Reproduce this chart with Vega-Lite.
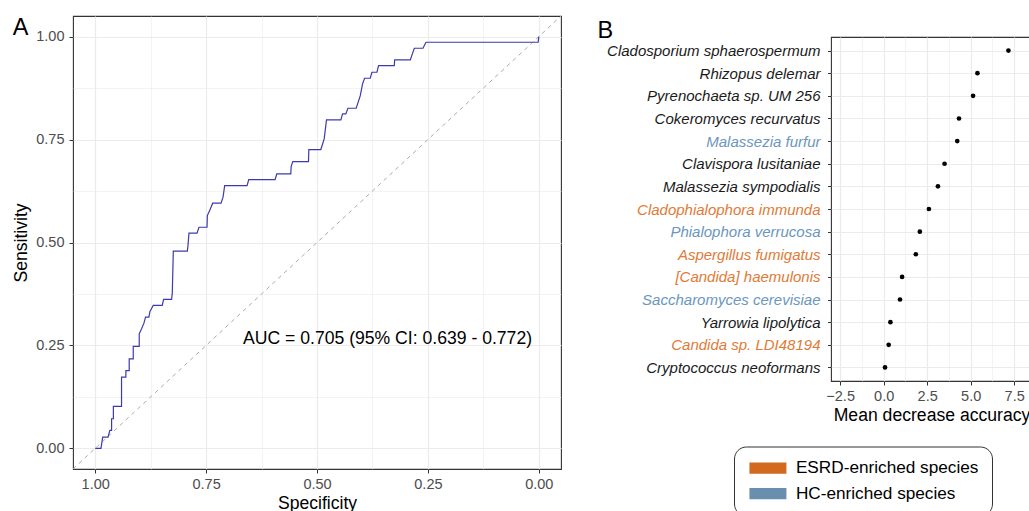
{
  "$schema": "https://vega.github.io/schema/vega-lite/v6.json",
  "padding": {"left": 12, "top": 14, "right": 0, "bottom": 0},
  "background": "white",
  "config": {
    "font": "Liberation Sans",
    "view": {"stroke": "#333333", "strokeWidth": 1.1},
    "axis": {
      "gridColor": "#EBEBEB",
      "domain": false,
      "tickColor": "#333333",
      "tickSize": 4,
      "labelColor": "#4D4D4D",
      "labelFontSize": 14.5,
      "labelLimit": 400,
      "titleFontSize": 17.6,
      "titleFontWeight": "normal",
      "titleColor": "black"
    },
    "title": {"fontSize": 23.5, "fontWeight": "normal", "color": "black"}
  },
  "datasets": {
    "roc": [
      {"i": 1, "spec": 1.0, "sens": 0.0},
      {"i": 2, "spec": 0.987, "sens": 0.0},
      {"i": 3, "spec": 0.983, "sens": 0.0275},
      {"i": 4, "spec": 0.971, "sens": 0.0275},
      {"i": 5, "spec": 0.967, "sens": 0.0437},
      {"i": 6, "spec": 0.963, "sens": 0.0437},
      {"i": 7, "spec": 0.963, "sens": 0.072},
      {"i": 8, "spec": 0.959, "sens": 0.072},
      {"i": 9, "spec": 0.959, "sens": 0.102},
      {"i": 10, "spec": 0.9406, "sens": 0.102},
      {"i": 11, "spec": 0.9406, "sens": 0.173},
      {"i": 12, "spec": 0.9308, "sens": 0.173},
      {"i": 13, "spec": 0.9308, "sens": 0.189},
      {"i": 14, "spec": 0.9233, "sens": 0.189},
      {"i": 15, "spec": 0.9233, "sens": 0.2176},
      {"i": 16, "spec": 0.9142, "sens": 0.2176},
      {"i": 17, "spec": 0.9142, "sens": 0.2476},
      {"i": 18, "spec": 0.9007, "sens": 0.2476},
      {"i": 19, "spec": 0.9007, "sens": 0.2783},
      {"i": 20, "spec": 0.8954, "sens": 0.2905},
      {"i": 21, "spec": 0.8901, "sens": 0.3042},
      {"i": 22, "spec": 0.8864, "sens": 0.3188},
      {"i": 23, "spec": 0.8789, "sens": 0.3188},
      {"i": 24, "spec": 0.8766, "sens": 0.3325},
      {"i": 25, "spec": 0.8691, "sens": 0.3471},
      {"i": 26, "spec": 0.8488, "sens": 0.3471},
      {"i": 27, "spec": 0.8458, "sens": 0.3617},
      {"i": 28, "spec": 0.8277, "sens": 0.3617},
      {"i": 29, "spec": 0.8262, "sens": 0.377},
      {"i": 30, "spec": 0.8239, "sens": 0.479},
      {"i": 31, "spec": 0.7923, "sens": 0.479},
      {"i": 32, "spec": 0.7908, "sens": 0.4927},
      {"i": 33, "spec": 0.7886, "sens": 0.5227},
      {"i": 34, "spec": 0.7705, "sens": 0.5227},
      {"i": 35, "spec": 0.766, "sens": 0.537},
      {"i": 36, "spec": 0.7479, "sens": 0.537},
      {"i": 37, "spec": 0.7472, "sens": 0.5655},
      {"i": 38, "spec": 0.7412, "sens": 0.5793},
      {"i": 39, "spec": 0.7351, "sens": 0.5955},
      {"i": 40, "spec": 0.7163, "sens": 0.5955},
      {"i": 41, "spec": 0.7118, "sens": 0.61},
      {"i": 42, "spec": 0.7081, "sens": 0.6383},
      {"i": 43, "spec": 0.6576, "sens": 0.6383},
      {"i": 44, "spec": 0.6539, "sens": 0.6529},
      {"i": 45, "spec": 0.5944, "sens": 0.6529},
      {"i": 46, "spec": 0.5907, "sens": 0.6667},
      {"i": 47, "spec": 0.5591, "sens": 0.6667},
      {"i": 48, "spec": 0.5583, "sens": 0.6845},
      {"i": 49, "spec": 0.5546, "sens": 0.6966},
      {"i": 50, "spec": 0.5192, "sens": 0.6966},
      {"i": 51, "spec": 0.5184, "sens": 0.7257},
      {"i": 52, "spec": 0.4913, "sens": 0.7257},
      {"i": 53, "spec": 0.4838, "sens": 0.7516},
      {"i": 54, "spec": 0.4786, "sens": 0.7977},
      {"i": 55, "spec": 0.4462, "sens": 0.7977},
      {"i": 56, "spec": 0.4424, "sens": 0.8123},
      {"i": 57, "spec": 0.4349, "sens": 0.8123},
      {"i": 58, "spec": 0.4304, "sens": 0.826},
      {"i": 59, "spec": 0.4116, "sens": 0.826},
      {"i": 60, "spec": 0.4026, "sens": 0.856},
      {"i": 61, "spec": 0.3973, "sens": 0.8851},
      {"i": 62, "spec": 0.3928, "sens": 0.8989},
      {"i": 63, "spec": 0.38, "sens": 0.8989},
      {"i": 64, "spec": 0.3762, "sens": 0.9134},
      {"i": 65, "spec": 0.3649, "sens": 0.9134},
      {"i": 66, "spec": 0.3612, "sens": 0.9296},
      {"i": 67, "spec": 0.3258, "sens": 0.9296},
      {"i": 68, "spec": 0.325, "sens": 0.9434},
      {"i": 69, "spec": 0.2897, "sens": 0.9434},
      {"i": 70, "spec": 0.2807, "sens": 0.9717},
      {"i": 71, "spec": 0.2611, "sens": 0.9717},
      {"i": 72, "spec": 0.2543, "sens": 0.9862},
      {"i": 73, "spec": 0.0015, "sens": 0.9862},
      {"i": 74, "spec": 0.0, "sens": 1.0}
    ],
    "imp": [
      {"species": "Cladosporium sphaerospermum", "mda": 7.17, "group": "none"},
      {"species": "Rhizopus delemar", "mda": 5.39, "group": "none"},
      {"species": "Pyrenochaeta sp. UM 256", "mda": 5.14, "group": "none"},
      {"species": "Cokeromyces recurvatus", "mda": 4.33, "group": "none"},
      {"species": "Malassezia furfur", "mda": 4.23, "group": "HC-enriched species"},
      {"species": "Clavispora lusitaniae", "mda": 3.5, "group": "none"},
      {"species": "Malassezia sympodialis", "mda": 3.12, "group": "none"},
      {"species": "Cladophialophora immunda", "mda": 2.6, "group": "ESRD-enriched species"},
      {"species": "Phialophora verrucosa", "mda": 2.08, "group": "HC-enriched species"},
      {"species": "Aspergillus fumigatus", "mda": 1.85, "group": "ESRD-enriched species"},
      {"species": "[Candida] haemulonis", "mda": 1.06, "group": "ESRD-enriched species"},
      {"species": "Saccharomyces cerevisiae", "mda": 0.94, "group": "HC-enriched species"},
      {"species": "Yarrowia lipolytica", "mda": 0.39, "group": "none"},
      {"species": "Candida sp. LDI48194", "mda": 0.29, "group": "ESRD-enriched species"},
      {"species": "Cryptococcus neoformans", "mda": 0.08, "group": "none"}
    ]
  },
  "resolve": {"scale": {"color": "independent"}, "legend": {"color": "independent"}},
  "spacing": 35,
  "hconcat": [
    {
      "width": 488,
      "height": 453,
      "title": {"text": "A", "anchor": "start", "frame": "bounds", "offset": -23},
      "encoding": {
        "x": {
          "field": "spec", "type": "quantitative",
          "scale": {"domain": [-0.05, 1.05], "reverse": true, "nice": false, "zero": false},
          "axis": {
            "title": "Specificity",
            "values": [0, 0.125, 0.25, 0.375, 0.5, 0.625, 0.75, 0.875, 1],
            "labelExpr": "(datum.value*4) % 1 == 0 ? format(datum.value, '.2f') : ''",
            "tickOpacity": {"condition": {"test": "(datum.value*4) % 1 != 0", "value": 0}, "value": 1},
            "gridWidth": {"condition": {"test": "(datum.value*4) % 1 != 0", "value": 0.6}, "value": 1.2},
            "labelPadding": 4,
            "titlePadding": 4
          }
        },
        "y": {
          "field": "sens", "type": "quantitative",
          "scale": {"domain": [-0.05, 1.05], "nice": false, "zero": false},
          "axis": {
            "title": "Sensitivity",
            "values": [0, 0.125, 0.25, 0.375, 0.5, 0.625, 0.75, 0.875, 1],
            "labelExpr": "(datum.value*4) % 1 == 0 ? format(datum.value, '.2f') : ''",
            "tickOpacity": {"condition": {"test": "(datum.value*4) % 1 != 0", "value": 0}, "value": 1},
            "gridWidth": {"condition": {"test": "(datum.value*4) % 1 != 0", "value": 0.6}, "value": 1.2},
            "labelPadding": 5,
            "titlePadding": 5
          }
        }
      },
      "layer": [
        {
          "data": {"values": [{"spec": 1.05, "sens": -0.05}, {"spec": -0.05, "sens": 1.05}]},
          "mark": {"type": "line", "color": "#AAAAAA", "strokeDash": [4, 4], "strokeWidth": 1, "clip": true}
        },
        {
          "data": {"name": "roc"},
          "mark": {"type": "line", "color": "#3B3BAD", "strokeWidth": 1.2},
          "encoding": {"order": {"field": "i", "type": "quantitative"}}
        },
        {
          "data": {"values": [{"spec": 0.341, "sens": 0.265, "label": "AUC = 0.705 (95% CI: 0.639 - 0.772)"}]},
          "mark": {"type": "text", "fontSize": 17.6, "color": "black", "align": "center", "baseline": "middle"},
          "encoding": {"text": {"field": "label"}}
        }
      ]
    },
    {
      "resolve": {"scale": {"color": "independent"}, "legend": {"color": "independent"}},
      "spacing": 1,
      "vconcat": [
        {
          "width": 1,
          "height": 0.5,
          "view": {"stroke": null},
          "data": {"values": [{"t": ""}]},
          "mark": {"type": "text", "fontSize": 0},
          "encoding": {"text": {"field": "t"}}
        },
        {
          "width": 201,
          "height": 344,
          "title": {"text": "B", "anchor": "start", "frame": "bounds", "offset": -5.3, "dx": -9},
          "data": {"name": "imp"},
          "encoding": {
            "y": {
              "field": "species", "type": "nominal", "sort": null,
              "scale": {"type": "point", "padding": 0.6},
              "axis": {
                "title": null,
                "grid": true,
                "gridWidth": 1.2,
                "labelFontStyle": "italic",
                "labelFontSize": 15,
                "labelPadding": 7.5,
                "tickSize": 3.5,
                "labelColor": {
                  "condition": [
                    {"test": "indexof(['Cladophialophora immunda','Aspergillus fumigatus','[Candida] haemulonis','Candida sp. LDI48194'], datum.value) >= 0", "value": "#E07A35"},
                    {"test": "indexof(['Malassezia furfur','Phialophora verrucosa','Saccharomyces cerevisiae'], datum.value) >= 0", "value": "#6B96BD"}
                  ],
                  "value": "#1A1A1A"
                }
              }
            },
            "x": {
              "field": "mda", "type": "quantitative",
              "scale": {"domain": [-3.025, 8.525], "nice": false, "zero": false},
              "axis": {
                "title": "Mean decrease accuracy",
                "values": [-2.5, -1.25, 0, 1.25, 2.5, 3.75, 5, 6.25, 7.5],
                "labelExpr": "(datum.value/2.5) % 1 == 0 ? replace(format(datum.value, '.1f'), '-', '\u2212') : ''",
                "tickOpacity": {"condition": {"test": "(datum.value/2.5) % 1 != 0", "value": 0}, "value": 1},
                "gridWidth": {"condition": {"test": "(datum.value/2.5) % 1 != 0", "value": 0.6}, "value": 1.2},
                "labelPadding": 4,
                "titlePadding": 4
              }
            }
          },
          "layer": [
            {
              "mark": {"type": "circle", "size": 22, "color": "black", "opacity": 1}
            },
            {
              "transform": [{"filter": {"field": "group", "oneOf": ["ESRD-enriched species", "HC-enriched species"]}}],
              "mark": {"type": "square", "opacity": 0},
              "encoding": {
                "color": {
                  "field": "group", "type": "nominal",
                  "scale": {"domain": ["ESRD-enriched species", "HC-enriched species"], "range": ["#D2691E", "#6A8EAE"]},
                  "legend": {
                    "title": null,
                    "orient": "none",
                    "legendX": -97,
                    "legendY": 409.5,
                    "padding": 13,
                    "strokeColor": "#333333",
                    "cornerRadius": 12,
                    "fillColor": "white",
                    "labelFontSize": 17.2,
                    "labelColor": "black",
                    "labelLimit": 400,
                    "labelOffset": 31.7,
                    "symbolType": "M-1,-0.9H5V0.9H-1Z",
                    "symbolSize": 152,
                    "symbolStrokeWidth": 0,
                    "symbolOpacity": 1,
                    "rowPadding": 7.5
                  }
                }
              }
            }
          ]
        }
      ]
    }
  ]
}
